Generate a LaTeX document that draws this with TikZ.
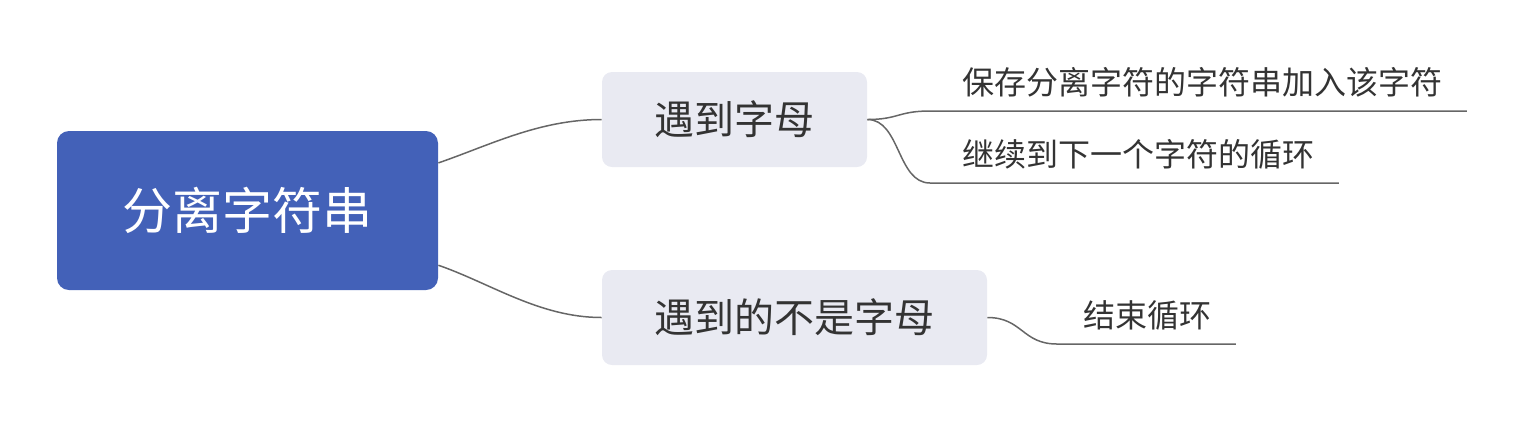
\documentclass[tikz,border=0pt]{standalone}
\usepackage{fontspec}
\setmainfont{Noto Sans CJK SC}
\usetikzlibrary{calc}
\definecolor{rootblue}{HTML}{4361B8}
\definecolor{subgray}{HTML}{E9EAF2}
\definecolor{textgray}{HTML}{333333}
\definecolor{linegray}{HTML}{666666}
\tikzset{
	root/.style={fill=rootblue, text=white, rounded corners=6pt,
		minimum width=190.5pt, minimum height=79.5pt, font=\fontsize{25}{30}\selectfont},
	sub/.style={fill=subgray, text=textgray, rounded corners=5pt,
		minimum height=47.5pt, font=\fontsize{20}{24}\selectfont},
	leaf/.style={anchor=south west, align=right, text=textgray, inner xsep=12pt,
		inner ysep=8pt, text depth=0pt, font=\fontsize{16}{19}\selectfont},
	branch/.style={draw=linegray, line width=0.75pt}
}

\begin{document}
\begin{tikzpicture}[x=0.5pt,y=-0.5pt]
	\useasboundingbox (0,0) rectangle (1522,420);

	\node[root] (fenli) at (247.5,210.5) {分离字符串};
	\node[sub, minimum width=132.5pt] (zimu) at (734.5,119.5) {遇到字母};
	\node[sub, minimum width=192.5pt] (feizimu) at (794.5,317.5) {遇到的不是字母};

	\node[leaf, text width=244pt] (baocun) at (930,111) {保存分离字符的字符串加入该字符};
	\node[leaf, text width=180pt] (jixu) at (930,183) {继续到下一个字符的循环};
	\node[leaf, text width=65pt] (jieshu) at (1057,344) {结束循环};

	\draw[branch] (fenli.14) .. controls +(52,-18) and +(-62,0) .. (zimu.west);
	\draw[branch] (fenli.-16) .. controls +(52,18) and +(-62,0) .. (feizimu.west);
	\draw[branch] (zimu.east) .. controls +(31,0) and +(-32,0) .. (baocun.south west) -- (baocun.south east);
	\draw[branch] (zimu.east) .. controls +(33,0) and +(-33,0) .. (jixu.south west) -- (jixu.south east);
	\draw[branch] (feizimu.east) .. controls +(35,0) and +(-35,0) .. (jieshu.south west) -- (jieshu.south east);
\end{tikzpicture}
\end{document}
